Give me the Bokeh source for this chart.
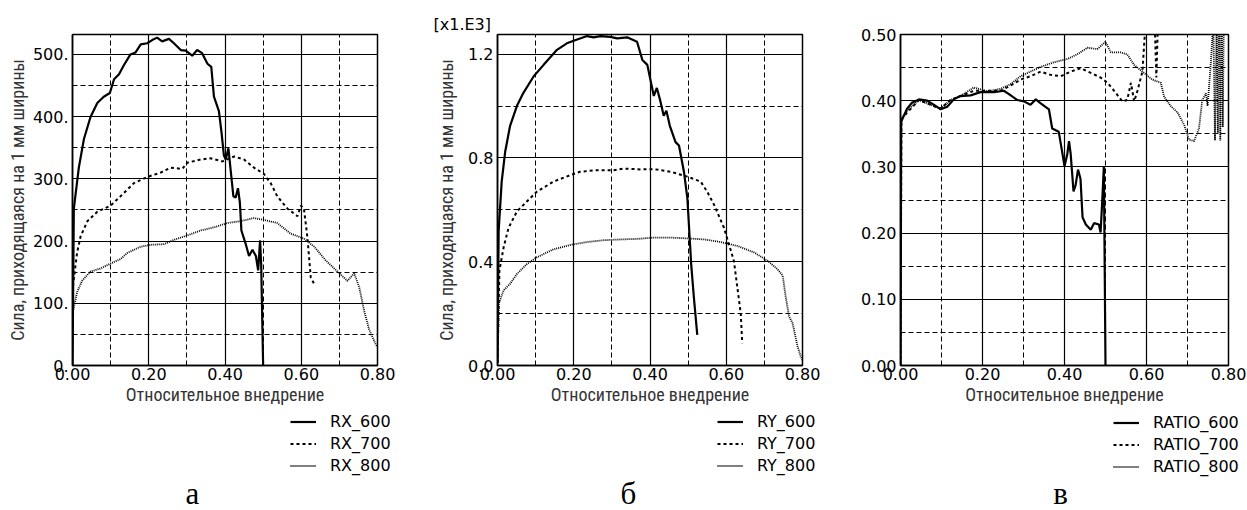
from bokeh.plotting import figure
from bokeh.layouts import row, column
from bokeh.models import FixedTicker, Legend, LegendItem, Range1d, Label
from bokeh.embed import file_html
from bokeh.resources import INLINE

# ---------------- data ----------------
x_ticks = [0.0, 0.2, 0.4, 0.6, 0.8]
x_tick_labels = ["0.00", "0.20", "0.40", "0.60", "0.80"]
x_minor = [0.1, 0.3, 0.5, 0.7]
x_title = "Относительное внедрение"
y_title = "Сила, приходящаяся на 1 мм ширины"

# panel a: RX
rx_y_ticks = [0, 100, 200, 300, 400, 500]
rx_y_labels = ["0.", "100.", "200.", "300.", "400.", "500."]
rx_y_minor = [50, 150, 250, 350, 450]
rx600_x = [0.0, 0.0035, 0.0166, 0.030, 0.047, 0.065, 0.082, 0.098, 0.109, 0.122, 0.135, 0.152, 0.165, 0.179,
           0.196, 0.209, 0.222, 0.235, 0.253, 0.266, 0.284, 0.297, 0.314, 0.327, 0.340, 0.354, 0.364, 0.371,
           0.384, 0.391, 0.397, 0.402, 0.409, 0.415, 0.422, 0.428, 0.434, 0.439, 0.443, 0.454, 0.463, 0.472,
           0.481, 0.487, 0.492, 0.495, 0.500]
rx600_y = [0, 252, 318, 364, 399, 422, 432, 438, 460, 468, 483, 500, 503, 516, 518, 523, 527, 521, 525, 518,
           507, 506, 498, 507, 502, 485, 480, 432, 409, 374, 338, 331, 349, 313, 272, 270, 285, 262, 217, 196,
           176, 186, 176, 153, 201, 161, 0]
rx700_x = [0.0, 0.0017, 0.012, 0.021, 0.039, 0.065, 0.100, 0.126, 0.161, 0.196, 0.231, 0.257, 0.288, 0.301,
           0.336, 0.362, 0.393, 0.424, 0.450, 0.476, 0.502, 0.520, 0.537, 0.564, 0.590, 0.599, 0.607, 0.616,
           0.625, 0.634]
rx700_y = [60, 131, 181, 207, 232, 247, 257, 272, 293, 303, 310, 318, 316, 326, 331, 333, 328, 336, 331, 318,
           308, 293, 272, 252, 240, 257, 252, 207, 141, 131]
rx800_x = [0.0, 0.0017, 0.012, 0.025, 0.047, 0.074, 0.100, 0.126, 0.144, 0.179, 0.205, 0.240, 0.266, 0.301,
           0.336, 0.371, 0.406, 0.441, 0.476, 0.502, 0.537, 0.572, 0.607, 0.634, 0.664, 0.695, 0.721, 0.739,
           0.752, 0.765, 0.778, 0.796, 0.800]
rx800_y = [0, 88, 118, 136, 151, 156, 164, 171, 181, 191, 194, 195, 202, 209, 217, 222, 229, 232, 237, 234,
           229, 212, 204, 191, 169, 151, 136, 148, 126, 88, 58, 33, 30]

# panel b: RY (in units of 1e3)
ry_y_ticks = [0.0, 0.4, 0.8, 1.2]
ry_y_labels = ["0.0", "0.4", "0.8", "1.2"]
ry_y_minor = [0.2, 0.6, 1.0]
ry600_x = [0.0, 0.003, 0.011, 0.020, 0.033, 0.051, 0.068, 0.095, 0.121, 0.156, 0.182, 0.209, 0.235, 0.252,
           0.270, 0.296, 0.314, 0.340, 0.366, 0.380, 0.393, 0.401, 0.410, 0.418, 0.426, 0.436, 0.443, 0.452,
           0.467, 0.476, 0.489, 0.498, 0.508, 0.515, 0.524]
ry600_y = [0.01, 0.518, 0.709, 0.823, 0.924, 1.001, 1.051, 1.115, 1.159, 1.217, 1.242, 1.257, 1.270, 1.265,
           1.270, 1.267, 1.261, 1.265, 1.248, 1.178, 1.159, 1.102, 1.039, 1.070, 1.026, 0.963, 0.982, 0.924,
           0.861, 0.848, 0.747, 0.645, 0.391, 0.264, 0.118]
ry700_x = [0.0, 0.005, 0.016, 0.029, 0.051, 0.077, 0.103, 0.147, 0.191, 0.217, 0.261, 0.305, 0.331, 0.375,
           0.410, 0.454, 0.498, 0.533, 0.550, 0.568, 0.594, 0.620, 0.638, 0.642]
ry700_y = [0.01, 0.366, 0.455, 0.531, 0.594, 0.632, 0.670, 0.709, 0.734, 0.747, 0.753, 0.753, 0.759, 0.756,
           0.757, 0.747, 0.728, 0.709, 0.670, 0.620, 0.531, 0.404, 0.201, 0.086]
ry800_x = [0.0, 0.0035, 0.016, 0.033, 0.051, 0.077, 0.103, 0.147, 0.191, 0.235, 0.279, 0.323, 0.366, 0.410,
           0.454, 0.498, 0.542, 0.585, 0.629, 0.673, 0.708, 0.734, 0.748, 0.756, 0.765, 0.774, 0.787, 0.795,
           0.800]
ry800_y = [0.01, 0.239, 0.290, 0.315, 0.353, 0.391, 0.417, 0.448, 0.465, 0.476, 0.483, 0.486, 0.488, 0.493,
           0.493, 0.490, 0.486, 0.476, 0.461, 0.436, 0.404, 0.372, 0.347, 0.264, 0.188, 0.163, 0.074, 0.036,
           0.02]

# panel c: RATIO
rt_y_ticks = [0.0, 0.1, 0.2, 0.3, 0.4, 0.5]
rt_y_labels = ["0.00", "0.10", "0.20", "0.30", "0.40", "0.50"]
rt_y_minor = [0.05, 0.15, 0.25, 0.35, 0.45]
rt600_x = [0.0, 0.0016, 0.008, 0.016, 0.028, 0.045, 0.065, 0.081, 0.098, 0.114, 0.130, 0.146, 0.171, 0.195,
           0.228, 0.252, 0.269, 0.285, 0.301, 0.317, 0.330, 0.342, 0.362, 0.370, 0.386, 0.395, 0.400, 0.407,
           0.411, 0.415, 0.422, 0.427, 0.433, 0.439, 0.444, 0.452, 0.464, 0.472, 0.484, 0.488, 0.492, 0.496,
           0.500]
rt600_y = [0.0, 0.368, 0.377, 0.388, 0.397, 0.402, 0.400, 0.394, 0.387, 0.391, 0.402, 0.407, 0.408, 0.413,
           0.413, 0.415, 0.408, 0.401, 0.399, 0.394, 0.402, 0.396, 0.387, 0.358, 0.353, 0.320, 0.301, 0.320,
           0.339, 0.320, 0.263, 0.272, 0.296, 0.282, 0.224, 0.213, 0.205, 0.215, 0.213, 0.201, 0.248, 0.301,
           0.0]
rt700_x = [0.0, 0.0024, 0.016, 0.045, 0.081, 0.098, 0.122, 0.146, 0.179, 0.212, 0.244, 0.269, 0.293, 0.317,
           0.342, 0.366, 0.391, 0.415, 0.439, 0.464, 0.488, 0.505, 0.521, 0.541, 0.553, 0.562, 0.570, 0.578,
           0.590, 0.598, 0.610, 0.620, 0.624, 0.628, 0.634]
rt700_y = [0.0, 0.372, 0.382, 0.401, 0.392, 0.388, 0.401, 0.407, 0.415, 0.415, 0.415, 0.423, 0.432, 0.437,
           0.444, 0.439, 0.437, 0.444, 0.449, 0.442, 0.435, 0.427, 0.415, 0.399, 0.401, 0.427, 0.399, 0.415,
           0.444, 0.52, 0.60, 0.52, 0.435, 0.52, 0.70]
rt800_x = [0.0, 0.0016, 0.016, 0.045, 0.081, 0.098, 0.122, 0.146, 0.179, 0.212, 0.244, 0.269, 0.293, 0.317,
           0.342, 0.374, 0.407, 0.431, 0.456, 0.480, 0.500, 0.513, 0.537, 0.553, 0.570, 0.594, 0.614, 0.635,
           0.643, 0.659, 0.676, 0.692, 0.704, 0.716, 0.728, 0.736, 0.745, 0.749, 0.757, 0.763, 0.767, 0.771,
           0.774, 0.777, 0.780, 0.783, 0.786, 0.789]
rt800_y = [0.0, 0.372, 0.385, 0.401, 0.392, 0.388, 0.401, 0.407, 0.420, 0.414, 0.418, 0.425, 0.437, 0.444,
           0.451, 0.458, 0.463, 0.470, 0.480, 0.478, 0.489, 0.473, 0.473, 0.470, 0.454, 0.442, 0.432, 0.427,
           0.406, 0.392, 0.382, 0.363, 0.341, 0.339, 0.358, 0.401, 0.411, 0.392, 0.458, 0.52, 0.34, 0.52,
           0.35, 0.55, 0.34, 0.55, 0.36, 0.55]

legend_names = [["RX_600", "RX_700", "RX_800"],
                ["RY_600", "RY_700", "RY_800"],
                ["RATIO_600", "RATIO_700", "RATIO_800"]]
panel_letters = ["а", "б", "в"]

# ---------------- styling ----------------
TICK_FONT = "DejaVu Sans"
TITLE_FONT = "Roboto Condensed"
STYLES = [dict(line_width=2.2, line_dash="solid"),
          dict(line_width=2.0, line_dash="3 3"),
          dict(line_width=1.8, line_dash="1 1")]
PAGE_W = 1247
PAGE_H = 510
MAIN_H = 413


def make_panel(width, bl, br, bt, bb, y_end, y_ticks, y_labels, y_minor, ylab, series, ylab_standoff):
    p = figure(width=width, height=MAIN_H, x_range=Range1d(0, 0.8), y_range=Range1d(0, y_end),
               output_backend="svg", toolbar_location=None,
               min_border_left=bl, min_border_right=br, min_border_top=bt, min_border_bottom=bb)
    p.background_fill_color = "white"
    p.border_fill_color = "white"
    p.outline_line_color = "black"
    p.outline_line_width = 1.5

    p.xaxis.ticker = FixedTicker(ticks=x_ticks)
    p.xaxis.major_label_overrides = dict(zip(x_ticks, x_tick_labels))
    p.yaxis.ticker = FixedTicker(ticks=y_ticks)
    p.yaxis.major_label_overrides = dict(zip(y_ticks, y_labels))
    for ax in (p.xaxis[0], p.yaxis[0]):
        ax.axis_line_color = "black"
        ax.axis_line_width = 1.5
        ax.major_tick_line_color = None
        ax.minor_tick_line_color = None
        ax.major_tick_out = 0
        ax.major_tick_in = 0
        ax.minor_tick_out = 0
        ax.minor_tick_in = 0
        ax.major_label_text_font = TICK_FONT
        ax.major_label_text_font_size = "16px"
        ax.major_label_text_color = "black"
        ax.axis_label_text_font = TITLE_FONT
        ax.axis_label_text_font_size = "18px"
        ax.axis_label_text_font_style = "normal"
        ax.axis_label_text_color = "#333333"
    p.xaxis.major_label_standoff = 2
    p.xaxis.axis_label_standoff = 1
    p.yaxis.major_label_standoff = 4
    p.yaxis.axis_label_standoff = ylab_standoff
    p.xaxis.axis_label = x_title
    if ylab:
        p.yaxis.axis_label = ylab

    p.xgrid.ticker = FixedTicker(ticks=x_ticks, minor_ticks=x_minor)
    p.ygrid.ticker = FixedTicker(ticks=y_ticks, minor_ticks=y_minor)
    for g in (p.xgrid[0], p.ygrid[0]):
        g.grid_line_color = "black"
        g.grid_line_width = 1.2
        g.grid_line_alpha = 1.0
        g.minor_grid_line_color = "black"
        g.minor_grid_line_width = 1
        g.minor_grid_line_dash = "5 3"

    for (xs, ys), st in zip(series, STYLES):
        p.line(xs, ys, line_color="black", **st)
    return p


series_a = [(rx600_x, rx600_y), (rx700_x, rx700_y), (rx800_x, rx800_y)]
series_b = [(ry600_x, ry600_y), (ry700_x, ry700_y), (ry800_x, ry800_y)]
series_c = [(rt600_x, rt600_y), (rt700_x, rt700_y), (rt800_x, rt800_y)]

pa = make_panel(430, 72, 53, 20, MAIN_H - 365, 532, rx_y_ticks, rx_y_labels, rx_y_minor, y_title,
                series_a, 2)
pb = make_panel(420, 67, 48, 34, MAIN_H - 369, 1.276, ry_y_ticks, ry_y_labels, ry_y_minor, y_title,
                series_b, 8)
pb.title.text = "[x1.E3]"
pb.title.align = "left"
pb.title.offset = -64
pb.title.standoff = 2
pb.title.text_font = TICK_FONT
pb.title.text_font_size = "16px"
pb.title.text_font_style = "normal"
pb.title.text_color = "black"
pc = make_panel(397, 50, 19, 21, MAIN_H - 370, 0.5, rt_y_ticks, rt_y_labels, rt_y_minor, None,
                series_c, 2)

# ---------------- footer: legends + panel letters (pixel coordinates) ----------------
FOOT_H = PAGE_H - MAIN_H
f = figure(width=PAGE_W, height=FOOT_H, x_range=Range1d(0, PAGE_W), y_range=Range1d(0, FOOT_H),
           output_backend="svg", toolbar_location=None, x_axis_type=None, y_axis_type=None,
           min_border=0, min_border_left=0, min_border_right=0, min_border_top=0, min_border_bottom=0)
f.outline_line_color = None
f.background_fill_color = "white"
f.border_fill_color = "white"
f.grid.visible = False

legend_pos = [(290, 35), (717, 35), (1113, 34)]   # bottom-left of each legend box
letter_pos = [(192, 0), (628, 0), (1060, 0)]
for series, names, (lx, ly), letter, (tx, ty) in zip([series_a, series_b, series_c], legend_names,
                                                     legend_pos, panel_letters, letter_pos):
    items = []
    for (xs, ys), name, st in zip(series, names, STYLES):
        # hidden copy of the series: only used to draw the legend swatch
        r = f.line(xs, ys, line_color="black", visible=False, **st)
        items.append(LegendItem(label=name, renderers=[r]))
    f.add_layout(Legend(items=items, location=(lx, ly), orientation="vertical",
                        padding=0, margin=0, spacing=3, glyph_width=26, glyph_height=15, label_height=15,
                        label_standoff=14, label_text_font=TICK_FONT, label_text_font_size="16px",
                        label_text_color="black", border_line_color=None, background_fill_alpha=0,
                        inactive_fill_alpha=0))
    f.add_layout(Label(x=tx, y=ty, x_units="screen", y_units="screen", text=letter,
                       text_font="Liberation Serif", text_font_size="31px", text_align="center",
                       text_baseline="bottom", text_color="black"))

layout = column(row(pa, pb, pc), f)
open("out.html", "w").write(file_html(layout, INLINE))
